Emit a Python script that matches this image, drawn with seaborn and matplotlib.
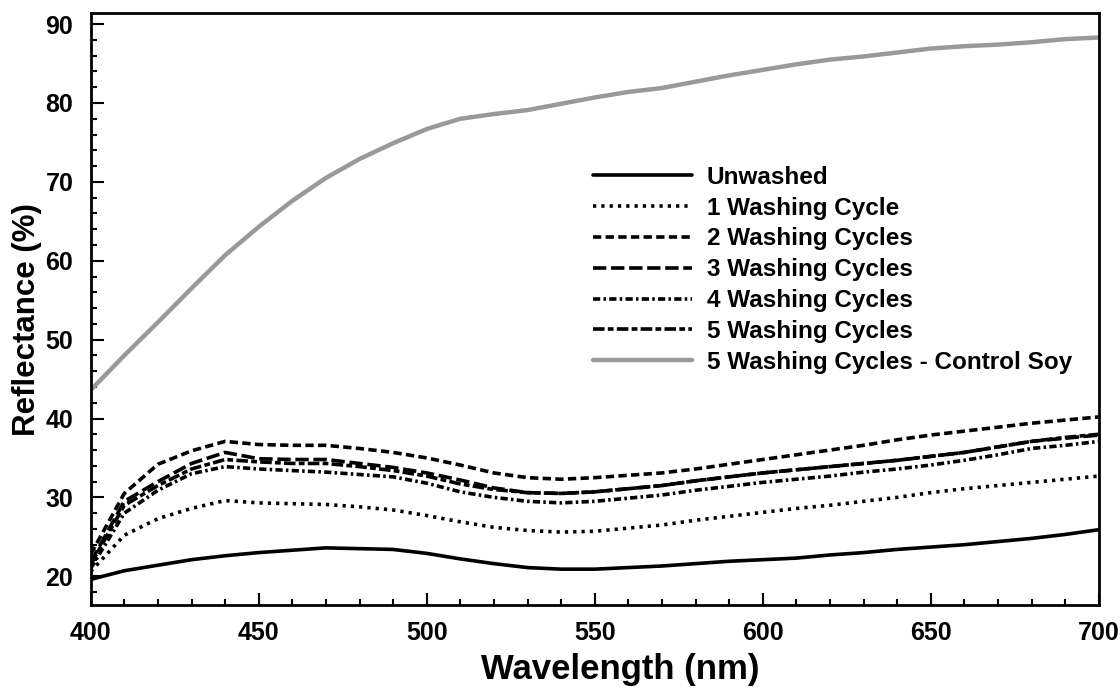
import matplotlib
matplotlib.use('Agg')

import matplotlib.pyplot as plt
import numpy as np
import pandas as pd
import seaborn as sns
from matplotlib.ticker import MultipleLocator

# wavelength grid (nm)
wavelength = list(range(400, 701, 10))

# reflectance (%), one value every 10 nm
unwashed = [19.6, 20.7, 21.4, 22.1, 22.6, 23.0, 23.3, 23.6, 23.5, 23.4, 22.9,
            22.2, 21.6, 21.1, 20.9, 20.9, 21.1, 21.3, 21.6, 21.9, 22.1,
            22.3, 22.7, 23.0, 23.4, 23.7, 24.0, 24.4, 24.8, 25.3, 25.9]
wash_1 = [20.6, 25.2, 27.3, 28.6, 29.6, 29.3, 29.2, 29.1, 28.8, 28.4, 27.7,
          26.9, 26.2, 25.8, 25.6, 25.7, 26.1, 26.5, 27.1, 27.6, 28.1,
          28.6, 29.0, 29.5, 30.0, 30.6, 31.1, 31.5, 31.9, 32.3, 32.7]
wash_2 = [22.8, 30.5, 34.2, 35.9, 37.1, 36.7, 36.6, 36.6, 36.2, 35.7, 35.0,
          34.1, 33.1, 32.5, 32.3, 32.5, 32.8, 33.1, 33.6, 34.2, 34.8,
          35.4, 36.0, 36.6, 37.3, 37.9, 38.4, 38.9, 39.4, 39.8, 40.2]
wash_3 = [21.8, 29.5, 32.0, 34.3, 35.7, 34.9, 34.8, 34.8, 34.3, 33.8, 33.1,
          32.2, 31.2, 30.6, 30.5, 30.7, 31.1, 31.5, 32.1, 32.6, 33.1,
          33.5, 33.9, 34.3, 34.7, 35.2, 35.7, 36.4, 37.1, 37.5, 37.9]
wash_4 = [21.0, 28.0, 30.9, 33.0, 33.9, 33.6, 33.4, 33.2, 32.9, 32.6, 31.8,
          30.7, 30.0, 29.5, 29.3, 29.5, 29.9, 30.3, 30.9, 31.4, 31.9,
          32.3, 32.7, 33.2, 33.6, 34.1, 34.7, 35.4, 36.2, 36.6, 37.1]
wash_5 = [21.5, 29.0, 31.5, 33.6, 34.8, 34.5, 34.3, 34.3, 33.9, 33.4, 32.7,
          31.7, 31.0, 30.6, 30.5, 30.7, 31.1, 31.5, 32.1, 32.6, 33.1,
          33.5, 33.9, 34.3, 34.7, 35.2, 35.7, 36.4, 37.1, 37.6, 38.0]
control_soy = [43.6, 48.0, 52.2, 56.5, 60.7, 64.3, 67.6, 70.5, 72.9, 74.9, 76.7,
               78.0, 78.6, 79.1, 79.9, 80.7, 81.4, 81.9, 82.7, 83.5, 84.2,
               84.9, 85.5, 85.9, 86.4, 86.9, 87.2, 87.4, 87.7, 88.1, 88.3]

labels = ['Unwashed', '1 Washing Cycle', '2 Washing Cycles', '3 Washing Cycles',
          '4 Washing Cycles', '5 Washing Cycles', '5 Washing Cycles - Control Soy']
series = [unwashed, wash_1, wash_2, wash_3, wash_4, wash_5, control_soy]

# line styles (dash patterns in linewidth units)
lw = 2.6
styles = [
    dict(color='black', linewidth=lw, linestyle='-'),
    dict(color='black', linewidth=lw, linestyle=(0, (0.9, 1.4))),
    dict(color='black', linewidth=lw, linestyle=(0, (2.3, 1.2))),
    dict(color='black', linewidth=lw, linestyle=(0, (3.7, 1.3))),
    dict(color='black', linewidth=lw, linestyle=(0, (2.0, 0.9, 0.7, 0.9))),
    dict(color='black', linewidth=lw, linestyle=(0, (3.2, 0.9, 1.6, 0.9))),
    dict(color='#999999', linewidth=3.2, linestyle='-'),
]

df = pd.DataFrame({'wavelength': wavelength})
for lab, vals in zip(labels, series):
    df[lab] = vals

sns.set_theme(style='ticks')
plt.rcParams['font.family'] = ['Liberation Sans', 'DejaVu Sans']
plt.rcParams['font.weight'] = 'bold'
plt.rcParams['text.color'] = 'black'
plt.rcParams['axes.labelcolor'] = 'black'
plt.rcParams['xtick.color'] = 'black'
plt.rcParams['ytick.color'] = 'black'

fig = plt.figure(figsize=(11.2, 6.88), dpi=100)
ax = fig.add_axes([0.081, 0.120, 0.900, 0.861])

for lab, st in zip(labels, styles):
    sns.lineplot(data=df, x='wavelength', y=lab, ax=ax, label=lab, **st)

ax.set_xlim(400, 700)
ax.set_ylim(16.3, 91.4)
ax.xaxis.set_major_locator(MultipleLocator(50))
ax.xaxis.set_minor_locator(MultipleLocator(10))
ax.yaxis.set_major_locator(MultipleLocator(10))
ax.yaxis.set_minor_locator(MultipleLocator(2))
ax.set_yticks(range(20, 91, 10))

ax.tick_params(which='both', direction='in', width=1.5, labelsize=18,
               top=False, right=False, colors='black', labelcolor='black')
ax.tick_params(which='major', length=9)
ax.tick_params(which='minor', length=4.5)
ax.tick_params(axis='x', which='major', pad=11.5)
ax.tick_params(axis='y', which='major', pad=12.5)
for t in ax.get_xticklabels() + ax.get_yticklabels():
    t.set_fontweight('bold')

for sp in ax.spines.values():
    sp.set_visible(True)
    sp.set_linewidth(2.0)
    sp.set_color('black')

ax.set_xlabel('Wavelength (nm)', fontsize=25, fontweight='bold')
ax.set_ylabel('Reflectance (%)', fontsize=22.5, fontweight='bold')
ax.xaxis.set_label_coords(0.525, -0.080)
ax.yaxis.set_label_coords(-0.048, 0.482)

leg = ax.legend(loc='upper left', bbox_to_anchor=(0.498, 0.742), frameon=False,
                fontsize=17.5, handlelength=4.1, handletextpad=0.6,
                labelspacing=0.32, borderpad=0, borderaxespad=0)
for t in leg.get_texts():
    t.set_fontweight('bold')

fig.savefig('out.png', dpi=100)
